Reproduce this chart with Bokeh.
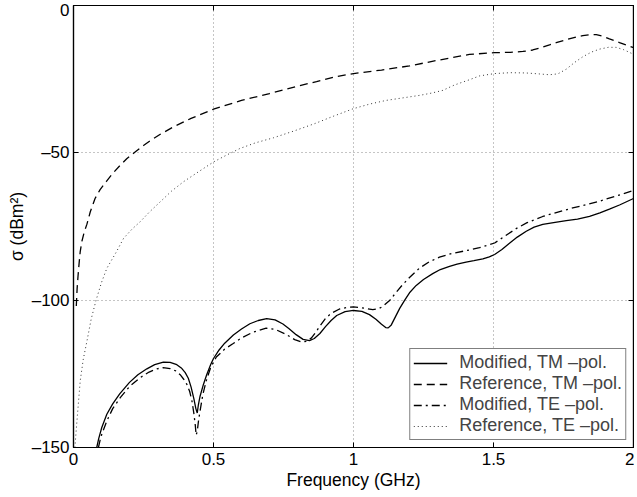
from bokeh.plotting import figure
from bokeh.models import (FixedTicker, LinearAxis, Legend, LegendItem, Range1d,
                          NumeralTickFormatter)
from bokeh.embed import file_html
from bokeh.resources import INLINE

# ---------------- data ----------------
x_mod_tm = [0.083, 0.09, 0.101, 0.119, 0.14, 0.165, 0.2, 0.23, 0.262, 0.29,
            0.321, 0.345, 0.369, 0.385, 0.399, 0.41, 0.42, 0.43, 0.437, 0.442,
            0.446, 0.452, 0.464, 0.476, 0.49, 0.5, 0.52, 0.54, 0.571, 0.6,
            0.63, 0.66, 0.69, 0.72, 0.748, 0.77, 0.795, 0.82, 0.843, 0.86,
            0.88, 0.9, 0.92, 0.94, 0.97, 1.0, 1.03, 1.057, 1.08, 1.1,
            1.115, 1.124, 1.135, 1.15, 1.165, 1.183, 1.2, 1.224, 1.25, 1.283,
            1.31, 1.343, 1.37, 1.402, 1.43, 1.462, 1.485, 1.504, 1.53, 1.557,
            1.585, 1.617, 1.645, 1.676, 1.72, 1.76, 1.8, 1.843, 1.88, 1.914,
            1.95, 2.0]
y_mod_tm = [-150, -147, -143.2, -138.7, -135.2, -131.8, -127.9, -125.3, -123.3, -121.9,
            -121.0, -121.1, -121.9, -123.0, -124.6, -126.5, -129.5, -133.5, -136.8, -138.3,
            -135.5, -132.6, -128.6, -125.2, -121.8, -119.8, -116.9, -114.6, -111.8, -109.8,
            -108.0, -106.9, -106.3, -106.7, -108.1, -109.7, -111.7, -113.3, -113.7, -113.0,
            -111.3, -109.0, -106.9, -105.2, -103.9, -103.5, -103.8, -104.9, -106.5, -108.2,
            -109.3, -109.4, -108.4, -105.6, -102.8, -100.0, -97.5, -95.0, -93.0, -91.0,
            -89.6, -88.5, -87.8, -87.1, -86.6, -86.0, -85.3, -84.5, -82.8, -80.7,
            -78.6, -76.6, -75.2, -74.3, -73.6, -73.0, -72.5, -71.6, -70.4, -69.1,
            -67.7, -65.5]

x_ref_tm = [0.01, 0.013, 0.016, 0.02, 0.024, 0.03, 0.038, 0.048, 0.06, 0.077,
            0.095, 0.119, 0.14, 0.167, 0.19, 0.22, 0.25, 0.274, 0.31, 0.357,
            0.42, 0.5, 0.6, 0.7, 0.8, 0.868, 0.93, 1.0, 1.1, 1.2,
            1.3, 1.414, 1.504, 1.56, 1.605, 1.64, 1.664, 1.7, 1.724, 1.77,
            1.819, 1.845, 1.867, 1.89, 1.914, 1.95, 1.986, 2.0]
y_ref_tm = [-102, -96, -92, -87.5, -83.5, -80, -77, -74.2, -70, -65.5,
            -62.5, -59.5, -57, -54.2, -52, -49.7, -47.5, -45.9, -43.7, -41.2,
            -38.3, -35.2, -32.2, -29.9, -27.4, -25.8, -24.3, -23.1, -21.9, -20.5,
            -18.6, -16.6, -16.0, -15.9, -15.6, -15.1, -14.5, -13.4, -12.6, -11.3,
            -10.2, -9.9, -9.9, -10.4, -11.3, -12.6, -13.8, -14.3]

x_mod_te = [0.089, 0.095, 0.101, 0.119, 0.14, 0.167, 0.2, 0.238, 0.27, 0.298,
            0.32, 0.345, 0.365, 0.381, 0.395, 0.405, 0.415, 0.423, 0.43, 0.435,
            0.438, 0.442, 0.447, 0.452, 0.462, 0.474, 0.49, 0.51, 0.54, 0.569,
            0.6, 0.64, 0.688, 0.72, 0.759, 0.79, 0.815, 0.835, 0.85, 0.865,
            0.879, 0.9, 0.92, 0.95, 0.98, 1.0, 1.03, 1.069, 1.09, 1.105,
            1.13, 1.152, 1.175, 1.2, 1.236, 1.27, 1.307, 1.35, 1.402, 1.45,
            1.504, 1.54, 1.581, 1.62, 1.676, 1.73, 1.783, 1.83, 1.879, 1.94,
            2.0]
y_mod_te = [-150, -147.5, -145.5, -141.0, -136.8, -133.1, -129.3, -126.3, -124.4, -123.3,
            -122.9, -123.2, -124.0, -125.3, -127.0, -128.6, -131.0, -134.2, -138.5, -142.5,
            -145.8, -144.5, -140.5, -137.6, -132.0, -127.4, -122.8, -119.3, -116.6, -114.8,
            -112.8, -110.9, -109.5, -109.9, -111.6, -113.4, -114.2, -113.9, -112.8, -110.9,
            -108.9, -106.2, -104.5, -103.0, -102.4, -102.3, -102.6, -103.2, -102.9, -102.1,
            -100.0, -97.4, -94.8, -92.3, -89.1, -87.0, -85.4, -84.2, -83.2, -82.2,
            -80.6, -78.3, -75.7, -73.7, -71.6, -70.1, -68.7, -67.6, -66.4, -64.6,
            -62.8]

x_ref_te = [0.005, 0.009, 0.014, 0.024, 0.035, 0.048, 0.063, 0.08, 0.1, 0.119,
            0.152, 0.179, 0.21, 0.238, 0.27, 0.31, 0.35, 0.393, 0.45, 0.5,
            0.55, 0.595, 0.65, 0.714, 0.79, 0.861, 0.93, 1.0, 1.06, 1.117,
            1.18, 1.236, 1.28, 1.319, 1.36, 1.414, 1.45, 1.504, 1.56, 1.617,
            1.66, 1.70, 1.73, 1.76, 1.79, 1.819, 1.85, 1.879, 1.91, 1.938,
            1.965, 1.992, 2.0]
y_ref_te = [-150, -145, -139, -127.4, -120, -113.9, -106.5, -100.2, -94, -89.2,
            -83.8, -79.0, -75.8, -73.4, -70.2, -66.6, -63, -59.8, -56.2, -53.1,
            -50.6, -48.5, -46.6, -44.9, -42.5, -40.1, -37.5, -35.0, -33.4, -32.2,
            -31.3, -30.5, -29.7, -28.8, -27.0, -25.2, -23.9, -23.1, -22.8, -22.9,
            -23.2, -23.5, -23.2, -21.6, -19.3, -17.4, -15.8, -14.8, -14.2, -14.2,
            -15.0, -16.2, -16.6]

x_ticks = [0, 0.5, 1, 1.5, 2]
y_ticks = [-150, -100, -50, 0]
y_tick_labels = {-150: "\u2013150", -100: "\u2013100", -50: "\u201350", 0: "0"}
labels = ["Modified, TM \u2013pol.", "Reference, TM \u2013pol.",
          "Modified, TE \u2013pol.", "Reference, TE \u2013pol."]

FONT = "Liberation Sans"

p = figure(width=634, height=492, output_backend="svg", toolbar_location=None,
           x_range=Range1d(0, 2), y_range=Range1d(-150, 0),
           min_border_left=73, min_border_right=1, min_border_top=5,
           min_border_bottom=44, x_axis_label="Frequency (GHz)",
           y_axis_label="\u03c3 (dBm\u00b2)")
p.outline_line_color = "black"
p.outline_line_width = 1.2
p.background_fill_color = "white"
p.border_fill_color = "white"

for ax in (p.xaxis[0], p.yaxis[0]):
    ax.major_tick_in = 5
    ax.major_tick_out = 0
    ax.minor_tick_line_color = None
    ax.axis_line_width = 1.2
    ax.major_label_text_font = FONT
    ax.major_label_text_font_size = "17px"
    ax.major_label_text_color = "black"
    ax.axis_label_text_font = FONT
    ax.axis_label_text_font_size = "17.5px"
    ax.axis_label_text_font_style = "normal"
    ax.axis_label_text_color = "black"
    ax.axis_label_standoff = 2

p.xaxis[0].ticker = FixedTicker(ticks=x_ticks)
p.xaxis[0].formatter = NumeralTickFormatter(format="0.[0]")
p.xaxis[0].major_label_standoff = 5
p.yaxis[0].ticker = FixedTicker(ticks=y_ticks)
p.yaxis[0].major_label_overrides = y_tick_labels
p.yaxis[0].major_label_standoff = 4

for side, tk in (("right", y_ticks), ("above", x_ticks)):
    ax = LinearAxis(ticker=FixedTicker(ticks=tk), major_tick_in=5, major_tick_out=0,
                    minor_tick_line_color=None, major_label_text_font_size="1px",
                    major_label_text_color=None,
                    major_label_standoff=0, axis_line_width=1.2)
    p.add_layout(ax, side)

p.xgrid.ticker = FixedTicker(ticks=x_ticks)
p.ygrid.ticker = FixedTicker(ticks=y_ticks)
for g in (p.xgrid[0], p.ygrid[0]):
    g.grid_line_color = "#8a8a8a"
    g.grid_line_dash = "1 3"
    g.grid_line_width = 1

r1 = p.line(x_mod_tm, y_mod_tm, line_color="black", line_width=1.3)
r2 = p.line(x_ref_tm, y_ref_tm, line_color="black", line_width=1.3, line_dash="8 5")
r3 = p.line(x_mod_te, y_mod_te, line_color="black", line_width=1.3, line_dash="8 4 2 4")
r4 = p.line(x_ref_te, y_ref_te, line_color="#333333", line_width=1.0, line_dash="1 3")

legend = Legend(items=[LegendItem(label=labels[0], renderers=[r1]),
                       LegendItem(label=labels[1], renderers=[r2]),
                       LegendItem(label=labels[2], renderers=[r3]),
                       LegendItem(label=labels[3], renderers=[r4])],
                location="bottom_right")
legend.border_line_color = "black"
legend.border_line_width = 1.2
legend.background_fill_alpha = 1
legend.label_text_font = FONT
legend.label_text_font_size = "18px"
legend.glyph_width = 34
legend.glyph_height = 18
legend.label_height = 18
legend.spacing = 0
legend.padding = 3
legend.label_standoff = 12
legend.margin = 7
p.add_layout(legend, "center")

open("out.html", "w").write(file_html(p, INLINE))
